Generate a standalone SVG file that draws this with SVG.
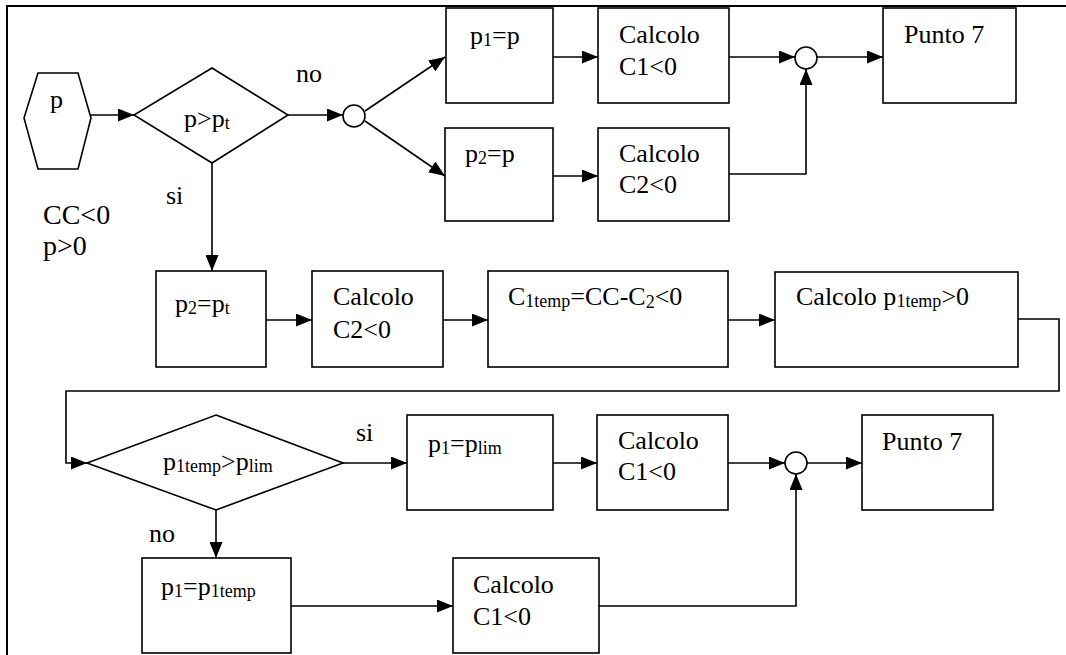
<svg xmlns="http://www.w3.org/2000/svg" width="1066" height="655" viewBox="0 0 1066 655" font-family="Liberation Serif, Times New Roman, serif">
<style>
.s{fill:#fff;stroke:#000;stroke-width:1.6}
.t{font-size:26px;fill:#000}
.sub{font-size:18px}
.c{fill:none;stroke:#000;stroke-width:1.6}
</style>
<defs>
<marker id="ah" markerUnits="userSpaceOnUse" markerWidth="16" markerHeight="13" refX="16" refY="6.5" orient="auto">
<path d="M0,0 L16,6.5 L0,13 z" fill="#000"/>
</marker>
</defs>
<rect width="1066" height="655" fill="#fff"/>
<path d="M7,655 L7,6 L1066,6" fill="none" stroke="#000" stroke-width="2"/>

<g id="connectors">
<path class="c" d="M91,115 L134,115" marker-end="url(#ah)"/>
<path class="c" d="M288,115 L343,115" marker-end="url(#ah)"/>
<path class="c" d="M365,111 L445,57" marker-end="url(#ah)"/>
<path class="c" d="M365,121 L445,176" marker-end="url(#ah)"/>
<path class="c" d="M553,57 L598,57" marker-end="url(#ah)"/>
<path class="c" d="M553,176 L598,176" marker-end="url(#ah)"/>
<path class="c" d="M729,57 L795,57" marker-end="url(#ah)"/>
<path class="c" d="M817,57 L883,57" marker-end="url(#ah)"/>
<path class="c" d="M729,174 L806,174 L806,69" marker-end="url(#ah)"/>
<path class="c" d="M212,163 L212,271" marker-end="url(#ah)"/>
<path class="c" d="M266,320 L312,320" marker-end="url(#ah)"/>
<path class="c" d="M443,320 L488,320" marker-end="url(#ah)"/>
<path class="c" d="M728,320 L775,320" marker-end="url(#ah)"/>
<path class="c" d="M1018,319 L1059,319 L1059,391 L66,391 L66,463 L87,463" marker-end="url(#ah)"/>
<path class="c" d="M343,463 L407,463" marker-end="url(#ah)"/>
<path class="c" d="M553,463 L597,463" marker-end="url(#ah)"/>
<path class="c" d="M728,463 L785,463" marker-end="url(#ah)"/>
<path class="c" d="M807,463 L862,463" marker-end="url(#ah)"/>
<path class="c" d="M216,510 L216,558" marker-end="url(#ah)"/>
<path class="c" d="M291,606 L453,606" marker-end="url(#ah)"/>
<path class="c" d="M599,606 L796,606 L796,474" marker-end="url(#ah)"/>
</g>

<g id="labels">
<text class="t" x="296" y="82">no</text>
<text class="t" x="166" y="204">si</text>
<text class="t" x="43" y="224" style="font-size:28px">CC&lt;0</text>
<text class="t" x="43" y="255" style="font-size:28px">p&gt;0</text>
<text class="t" x="356" y="441">si</text>
<text class="t" x="149" y="542">no</text>
</g>

<g id="n-input">
<polygon class="s" points="38,73 78,73 91,118 78,169 38,169 24,118"/>
<text class="t" x="50" y="108">p</text>
</g>

<g id="n-dec1">
<polygon class="s" points="212,68 288,115 212,163 134,115"/>
<text class="t" x="184" y="127">p&gt;p<tspan class="sub" dy="2">t</tspan></text>
</g>

<g id="n-join1"><circle class="s" cx="354" cy="116" r="11"/></g>

<g id="n-p1p">
<rect class="s" x="446" y="8" width="107" height="95"/>
<text class="t" x="470" y="44">p<tspan class="sub" dy="2">1</tspan><tspan dy="-2">=p</tspan></text>
</g>

<g id="n-calc1a">
<rect class="s" x="598" y="8" width="131" height="95"/>
<text class="t" x="619" y="43">Calcolo</text>
<text class="t" x="619" y="75">C1&lt;0</text>
</g>

<g id="n-join2"><circle class="s" cx="806" cy="58" r="11"/></g>

<g id="n-punto7a">
<rect class="s" x="883" y="8" width="133" height="95"/>
<text class="t" x="904" y="43">Punto 7</text>
</g>

<g id="n-p2p">
<rect class="s" x="445" y="128" width="108" height="93"/>
<text class="t" x="465" y="162">p<tspan class="sub" dy="2">2</tspan><tspan dy="-2">=p</tspan></text>
</g>

<g id="n-calc2a">
<rect class="s" x="598" y="128" width="131" height="93"/>
<text class="t" x="619" y="162">Calcolo</text>
<text class="t" x="619" y="193">C2&lt;0</text>
</g>

<g id="n-p2pt">
<rect class="s" x="156" y="271" width="110" height="96"/>
<text class="t" x="175" y="312">p<tspan class="sub" dy="2">2</tspan><tspan dy="-2">=p</tspan><tspan class="sub" dy="2">t</tspan></text>
</g>

<g id="n-calc2b">
<rect class="s" x="312" y="271" width="131" height="96"/>
<text class="t" x="333" y="305">Calcolo</text>
<text class="t" x="333" y="338">C2&lt;0</text>
</g>

<g id="n-c1temp">
<rect class="s" x="488" y="271" width="240" height="96"/>
<text class="t" x="508" y="305">C<tspan class="sub" dy="2">1temp</tspan><tspan dy="-2">=CC-C</tspan><tspan class="sub" dy="3">2</tspan><tspan dy="-3">&lt;0</tspan></text>
</g>

<g id="n-p1temp">
<rect class="s" x="775" y="272" width="243" height="95"/>
<text class="t" x="796" y="305">Calcolo p<tspan class="sub" dy="2">1temp</tspan><tspan dy="-2">&gt;0</tspan></text>
</g>

<g id="n-dec2">
<polygon class="s" points="216,415 343,463 216,510 87,463"/>
<text class="t" x="163" y="470">p<tspan class="sub" dy="2">1temp</tspan><tspan dy="-2">&gt;p</tspan><tspan class="sub" dy="2">lim</tspan></text>
</g>

<g id="n-p1plim">
<rect class="s" x="407" y="415" width="146" height="95"/>
<text class="t" x="428" y="452">p<tspan class="sub" dy="2">1</tspan><tspan dy="-2">=p</tspan><tspan class="sub" dy="2">lim</tspan></text>
</g>

<g id="n-calc1b">
<rect class="s" x="597" y="415" width="131" height="95"/>
<text class="t" x="618" y="449">Calcolo</text>
<text class="t" x="618" y="480">C1&lt;0</text>
</g>

<g id="n-join3"><circle class="s" cx="796" cy="463" r="11"/></g>

<g id="n-punto7b">
<rect class="s" x="862" y="415" width="131" height="95"/>
<text class="t" x="882" y="450">Punto 7</text>
</g>

<g id="n-p1p1temp">
<rect class="s" x="142" y="558" width="149" height="95"/>
<text class="t" x="161" y="595">p<tspan class="sub" dy="2">1</tspan><tspan dy="-2">=p</tspan><tspan class="sub" dy="2">1temp</tspan></text>
</g>

<g id="n-calc1c">
<rect class="s" x="453" y="558" width="146" height="95"/>
<text class="t" x="473" y="593">Calcolo</text>
<text class="t" x="473" y="625">C1&lt;0</text>
</g>
</svg>
